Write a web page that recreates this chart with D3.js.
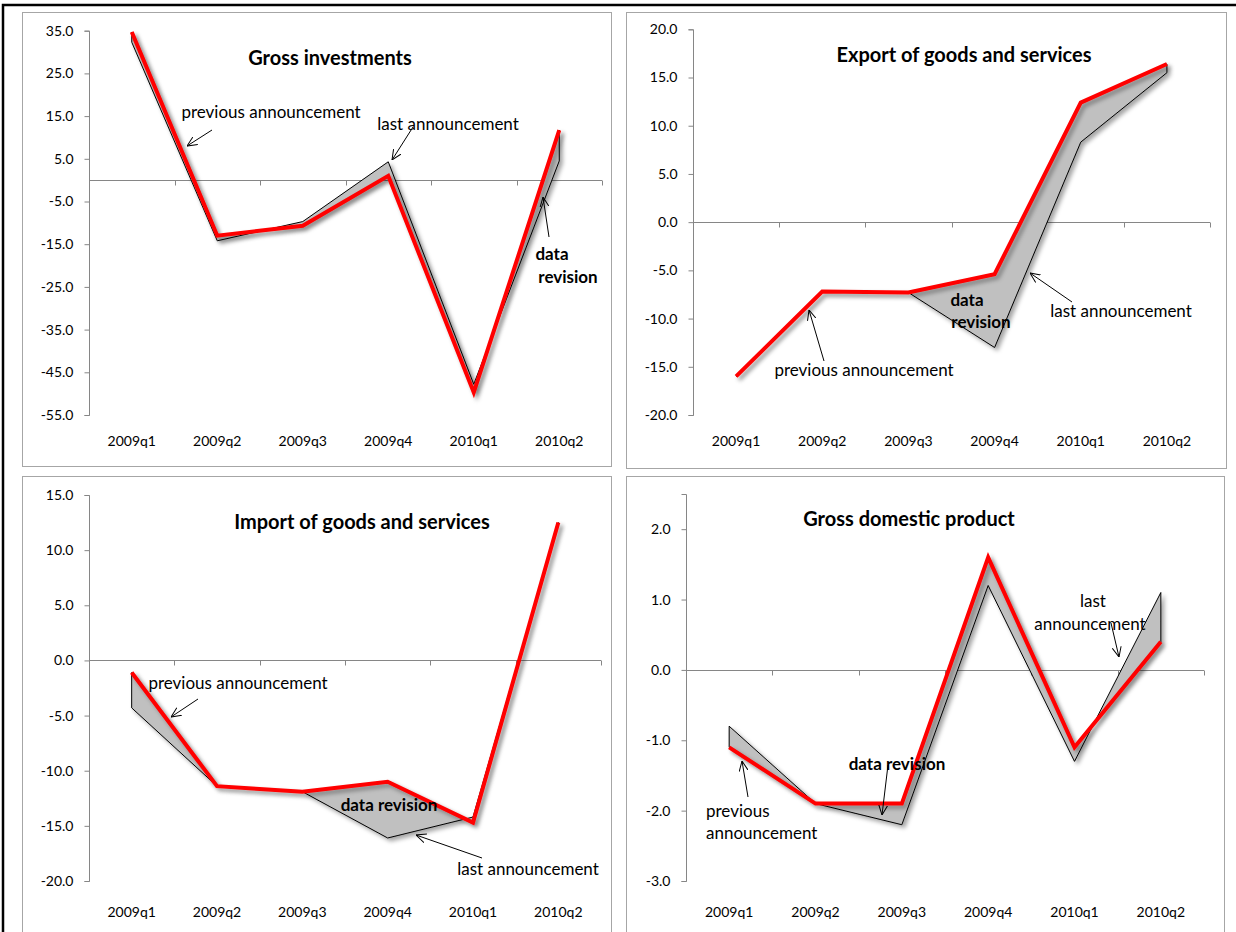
<!DOCTYPE html>
<html>
<head>
<meta charset="utf-8">
<script src="https://cdn.jsdelivr.net/npm/d3@7"></script>
<style>
  html, body { margin: 0; padding: 0; background: #fff; }
  svg { display: block; font-family: Lato, "Open Sans", sans-serif; }
</style>
</head>
<body>
<svg id="chart" width="1236" height="932"></svg>
<script>
// ---------------- data ----------------
const categories = ["2009q1", "2009q2", "2009q3", "2009q4", "2010q1", "2010q2"];

const invTitle = "Gross investments";
const invPrevious = [34.7, -13.0, -10.7, 1.0, -49.7, 11.7];
const invLast = [32.3, -14.2, -9.7, 4.3, -47.8, 4.5];
const invTicks = [35, 25, 15, 5, -5, -15, -25, -35, -45, -55];

const expTitle = "Export of goods and services";
const expPrevious = [-16.0, -7.2, -7.3, -5.4, 12.4, 16.4];
const expLast = [-16.0, -7.2, -7.3, -13.0, 8.3, 15.5];
const expTicks = [20, 15, 10, 5, 0, -5, -10, -15, -20];

const impTitle = "Import of goods and services";
const impPrevious = [-1.1, -11.4, -11.9, -11.0, -14.7, 12.5];
const impLast = [-4.3, -11.4, -11.9, -16.1, -14.2, 12.5];
const impTicks = [15, 10, 5, 0, -5, -10, -15, -20];

const gdpTitle = "Gross domestic product";
const gdpPrevious = [-1.1, -1.9, -1.9, 1.6, -1.1, 0.4];
const gdpLast = [-0.8, -1.9, -2.2, 1.2, -1.3, 1.1];
const gdpTicks = [2, 1, 0, -1, -2, -3];
const gdpDomainTop = 2.5;

// ---------------- drawing ----------------
const svg = d3.select("#chart");
const defs = svg.append("defs");

const shadow = defs.append("filter").attr("id", "shadow")
  .attr("x", "-10%").attr("y", "-10%").attr("width", "130%").attr("height", "130%");
shadow.append("feDropShadow")
  .attr("dx", 3).attr("dy", 3).attr("stdDeviation", 2)
  .attr("flood-color", "#000").attr("flood-opacity", 0.35);

defs.append("marker").attr("id", "arrow")
  .attr("viewBox", "0 0 10 10").attr("refX", 10).attr("refY", 5)
  .attr("markerWidth", 10).attr("markerHeight", 10)
  .attr("markerUnits", "userSpaceOnUse").attr("orient", "auto")
  .append("path").attr("d", "M0,0.5 L10,5 L0,9.5")
  .attr("fill", "none").attr("stroke", "#000").attr("stroke-width", 1);

// outer frame
svg.append("rect").attr("x", 3).attr("y", 5).attr("width", 1250).attr("height", 950)
  .attr("fill", "none").attr("stroke", "#000").attr("stroke-width", 2.5);

const AXIS = "#868686";

function panel(cfg) {
  const g = svg.append("g");
  // panel border
  g.append("rect")
    .attr("x", cfg.box[0] + 0.5).attr("y", cfg.box[1] + 0.5)
    .attr("width", cfg.box[2] - cfg.box[0]).attr("height", cfg.box[3] - cfg.box[1])
    .attr("fill", "#fff").attr("stroke", "#a6a6a6").attr("stroke-width", 1);

  const y = d3.scaleLinear().domain(cfg.domain).range([cfg.yBottom, cfg.yTop]);
  const x = d3.scaleBand().domain(categories).range([cfg.axisX, cfg.xEnd]).padding(0);
  const cx = c => x(c) + x.bandwidth() / 2;

  // y axis
  const yAxis = d3.axisLeft(y).tickValues(cfg.ticks).tickSize(5).tickPadding(11)
    .tickFormat(d => d.toFixed(1));
  const ya = g.append("g").attr("transform", `translate(${cfg.axisX + 0.5},0)`).call(yAxis);
  ya.select(".domain").attr("stroke", AXIS).attr("d", `M-5,${y(cfg.domain[1]) + 0.5}H0V${y(cfg.domain[0]) + 0.5}H-5`);
  ya.selectAll(".tick line").attr("stroke", AXIS);
  ya.selectAll(".tick text").attr("fill", "#000").attr("font-size", 14)
    .attr("font-family", "Lato, sans-serif");

  // x axis at zero
  const y0 = Math.round(y(0)) + 0.5;
  g.append("line").attr("x1", cfg.axisX).attr("x2", cfg.xEnd)
    .attr("y1", y0).attr("y2", y0).attr("stroke", AXIS);
  g.selectAll(".xtick").data(categories).enter().append("line")
    .attr("x1", c => Math.round(x(c) + x.bandwidth()) + 0.5)
    .attr("x2", c => Math.round(x(c) + x.bandwidth()) + 0.5)
    .attr("y1", y0).attr("y2", y0 + 5).attr("stroke", AXIS);
  g.selectAll(".xlab").data(categories).enter().append("text")
    .attr("x", c => cx(c)).attr("y", cfg.labelY)
    .attr("text-anchor", "middle").attr("dominant-baseline", "central")
    .attr("font-size", 14).text(c => c);

  // revision area between the two announcements
  const pts = categories.map((c, i) => [cx(c), y(cfg.last[i])])
    .concat(categories.map((c, i) => [cx(c), y(cfg.previous[i])]).reverse());
  g.append("path")
    .attr("d", "M" + pts.map(p => p.join(",")).join("L") + "Z")
    .attr("fill", "#c0c0c0").attr("stroke", "#000").attr("stroke-width", 1)
    .attr("stroke-linejoin", "miter")
    .attr("filter", "url(#shadow)");

  // previous announcement (red)
  const line = d3.line().x((d, i) => cx(categories[i])).y(d => y(d));
  g.append("path").datum(cfg.previous).attr("d", line)
    .attr("fill", "none").attr("stroke", "#ff0000").attr("stroke-width", 4)
    .attr("stroke-linejoin", "miter")
    .attr("filter", "url(#shadow)");

  // title
  g.append("text").attr("x", cfg.title[1]).attr("y", cfg.title[2])
    .attr("text-anchor", "middle").attr("dominant-baseline", "central")
    .attr("font-size", 20).attr("font-weight", "bold").text(cfg.title[0]);

  // annotations
  cfg.notes.forEach(n => {
    g.append("text").attr("x", n.x).attr("y", n.y)
      .attr("text-anchor", n.anchor || "middle").attr("dominant-baseline", "central")
      .attr("font-size", 17).attr("font-weight", n.bold ? "bold" : "normal")
      .text(n.t);
  });
  cfg.arrows.forEach(a => {
    g.append("line").attr("x1", a[0]).attr("y1", a[1]).attr("x2", a[2]).attr("y2", a[3])
      .attr("stroke", "#000").attr("stroke-width", 1).attr("marker-end", "url(#arrow)");
  });
}

panel({
  box: [22, 12, 611, 466], axisX: 89, xEnd: 602, yTop: 30.7, yBottom: 415,
  domain: [-55, 35], ticks: invTicks, labelY: 440,
  previous: invPrevious, last: invLast,
  title: [invTitle, 330, 57],
  notes: [
    { t: "previous announcement", x: 271, y: 111 },
    { t: "last announcement", x: 448, y: 123 },
    { t: "data", x: 552, y: 253, bold: true },
    { t: "revision", x: 568, y: 276, bold: true }
  ],
  arrows: [[212, 130, 187, 146], [413, 127, 392, 160], [549, 237, 543, 197]]
});

panel({
  box: [626, 12, 1226, 468], axisX: 693, xEnd: 1210, yTop: 29.3, yBottom: 415,
  domain: [-20, 20], ticks: expTicks, labelY: 440,
  previous: expPrevious, last: expLast,
  title: [expTitle, 964, 54],
  notes: [
    { t: "data", x: 967, y: 299, bold: true },
    { t: "revision", x: 981, y: 321, bold: true },
    { t: "last announcement", x: 1121, y: 310 },
    { t: "previous announcement", x: 864, y: 369 }
  ],
  arrows: [[1072, 302, 1030, 273], [824, 361, 809, 310]]
});

panel({
  box: [22, 476, 611, 940], axisX: 89, xEnd: 601, yTop: 495, yBottom: 881,
  domain: [-20, 15], ticks: impTicks, labelY: 911,
  previous: impPrevious, last: impLast,
  title: [impTitle, 362, 521],
  notes: [
    { t: "previous announcement", x: 238, y: 682 },
    { t: "data revision", x: 389, y: 804, bold: true },
    { t: "last announcement", x: 528, y: 868 }
  ],
  arrows: [[198, 699, 171, 717], [482, 858, 416, 835]]
});

panel({
  box: [626, 476, 1224, 940], axisX: 686, xEnd: 1204, yTop: 494, yBottom: 881,
  domain: [-3, gdpDomainTop], ticks: gdpTicks, labelY: 911,
  previous: gdpPrevious, last: gdpLast,
  title: [gdpTitle, 909, 518],
  notes: [
    { t: "previous", x: 706, y: 810, anchor: "start" },
    { t: "announcement", x: 706, y: 832, anchor: "start" },
    { t: "data revision", x: 897, y: 763, bold: true },
    { t: "last", x: 1093, y: 600 },
    { t: "announcement", x: 1090, y: 623 }
  ],
  arrows: [[748, 797, 742, 761], [888, 765, 882, 815], [1111, 623, 1119, 657]]
});
</script>
</body>
</html>
